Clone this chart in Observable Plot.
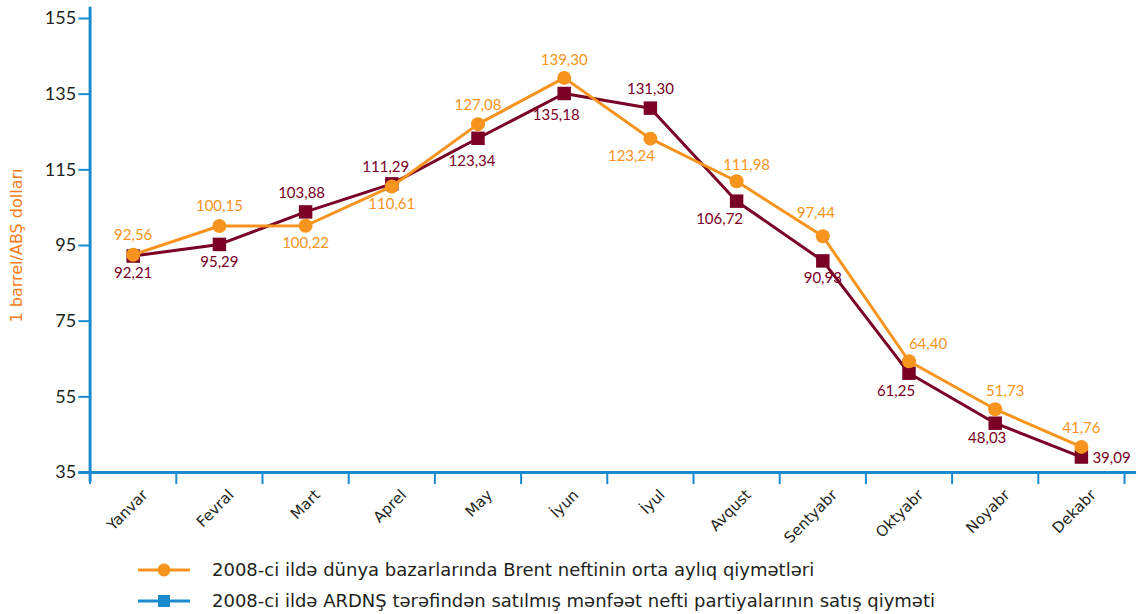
<!DOCTYPE html>
<html>
<head>
<meta charset="utf-8">
<script src="https://cdn.jsdelivr.net/npm/d3@7"></script>
<script src="https://cdn.jsdelivr.net/npm/@observablehq/plot@0.6"></script>
<style>
  html, body { margin: 0; padding: 0; background: #fff; }
  body { width: 1138px; height: 614px; overflow: hidden; font-family: Lato, "Noto Sans", sans-serif; }
  #chart svg { display: block; }
  #legend { padding-top: 2px; padding-left: 138px; }
  .row { display: flex; align-items: center; height: 31px; font-size: 18px; color: #231f20; font-family: "DejaVu Sans", sans-serif; white-space: nowrap; }
  .row svg { margin-right: 20px; }
</style>
</head>
<body>
<div id="chart"></div>
<div id="legend"></div>
<script>
// ---- data ----
const months = ["Yanvar", "Fevral", "Mart", "Aprel", "May", "İyun", "İyul", "Avqust", "Sentyabr", "Oktyabr", "Noyabr", "Dekabr"];
const brent = [92.56, 100.15, 100.22, 110.61, 127.08, 139.30, 123.24, 111.98, 97.44, 64.40, 51.73, 41.76];
const ardns = [92.21, 95.29, 103.88, 111.29, 123.34, 135.18, 131.30, 106.72, 90.93, 61.25, 48.03, 39.09];
const yTicks = [35, 55, 75, 95, 115, 135, 155];
const seriesNames = [
  "2008-ci ildə dünya bazarlarında Brent neftinin orta aylıq qiymətləri",
  "2008-ci ildə ARDNŞ tərəfindən satılmış mənfəət nefti partiyalarının satış qiyməti"
];
const yLabel = "1 barrel/ABŞ dolları";

// ---- layout helpers (label offsets in px) ----
const brentOff = [[0,-20],[0,-20],[0,17],[0,18],[0,-19],[0,-18],[-19,18],[10,-16],[-7,-23],[19,-17],[10,-18],[0,-19]];
const ardnsOff = [[0,17],[0,18],[-4,-19],[-6,-17],[-6,23],[-8,22],[0,-19],[-17,18],[0,17],[-13,18],[-8,15],[11,1]];

const fmt = v => v.toFixed(2).replace(".", ",");
const rows = months.map((m, i) => ({i, x: i + 0.5, month: m, brent: brent[i], ardns: ardns[i]}));

const ORANGE = "#f7941d", MAROON = "#7a0026", BLUE = "#1b8bd0", INK = "#231f20";
const FONT = "Lato, 'Noto Sans', sans-serif";
const WIDE = "'DejaVu Sans', sans-serif";

const labelMarks = [];
rows.forEach((r, i) => {
  labelMarks.push(Plot.text([r], {x: "x", y: "ardns", text: d => fmt(d.ardns), fill: MAROON, fontSize: 15,
    dx: ardnsOff[i][0], dy: ardnsOff[i][1], textAnchor: i === 11 ? "start" : "middle"}));
  labelMarks.push(Plot.text([r], {x: "x", y: "brent", text: d => fmt(d.brent), fill: ORANGE, fontSize: 15,
    dx: brentOff[i][0], dy: brentOff[i][1]}));
});

const chart = Plot.plot({
  width: 1138,
  height: 552,
  marginLeft: 89.6,
  marginRight: 14,
  marginTop: 18,
  marginBottom: 80,
  style: {fontFamily: FONT, background: "#fff", overflow: "visible"},
  x: {domain: [0, 12], axis: null},
  y: {domain: [35, 155], axis: null},
  marks: [
    // y axis
    Plot.ruleX([0], {y1: 32.4, y2: 158, stroke: BLUE, strokeWidth: 3}),
    Plot.ruleY(yTicks, {x1: -0.13, x2: 0, stroke: BLUE, strokeWidth: 2}),
    Plot.text(yTicks, {x: 0, y: d => d, text: d => String(d), dx: -14, textAnchor: "end", fontSize: 18, fill: INK}),
    // x axis
    Plot.ruleY([35], {x1: -0.13, x2: 12.14, stroke: BLUE, strokeWidth: 3}),
    Plot.ruleX(d3.range(13), {y1: 35, y2: 31.8, stroke: BLUE, strokeWidth: 2}),
    Plot.text(rows, {x: "x", y: 35, text: "month", rotate: -45, textAnchor: "end", dx: 12, dy: 20, fontSize: 15, fontFamily: WIDE, fill: INK}),
    // y label
    Plot.text([yLabel], {frameAnchor: "left", rotate: -90, dx: -73, textAnchor: "middle", fontSize: 16, fontFamily: WIDE, fill: "#f47b20"}),
    // series
    Plot.line(rows, {x: "x", y: "ardns", stroke: MAROON, strokeWidth: 3}),
    Plot.dot(rows, {x: "x", y: "ardns", symbol: "square", r: 7.6, fill: MAROON, stroke: "none"}),
    Plot.line(rows, {x: "x", y: "brent", stroke: ORANGE, strokeWidth: 3}),
    Plot.dot(rows, {x: "x", y: "brent", r: 7, fill: ORANGE, stroke: "none"}),
    ...labelMarks
  ]
});
document.getElementById("chart").appendChild(chart);

// legend
const legend = document.getElementById("legend");
const sym = [
  `<svg width="54" height="20"><line x1="0" y1="10" x2="52" y2="10" stroke="${ORANGE}" stroke-width="3"/><circle cx="26" cy="10" r="6.5" fill="${ORANGE}"/></svg>`,
  `<svg width="54" height="20"><line x1="0" y1="10" x2="52" y2="10" stroke="${BLUE}" stroke-width="3"/><rect x="20" y="4" width="12" height="12" fill="${BLUE}"/></svg>`
];
seriesNames.forEach((name, k) => {
  const row = document.createElement("div");
  row.className = "row";
  row.innerHTML = sym[k] + `<span>${name}</span>`;
  legend.appendChild(row);
});
</script>
</body>
</html>
